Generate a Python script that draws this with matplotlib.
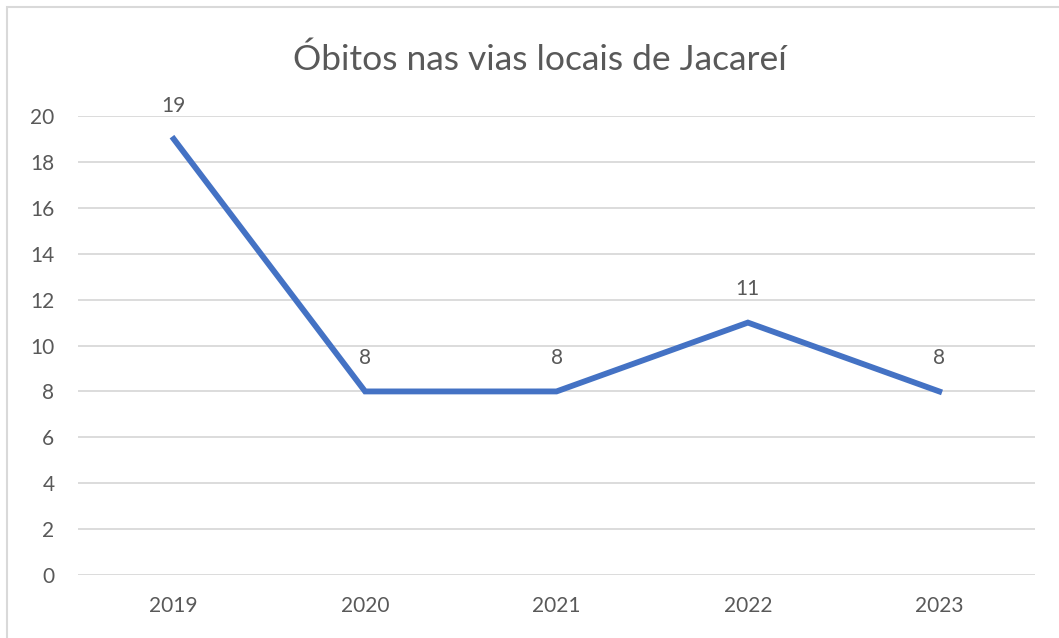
import matplotlib.pyplot as plt
from matplotlib.patches import Rectangle

plt.rcParams['font.family'] = ['Lato', 'DejaVu Sans']

anos = ["2019", "2020", "2021", "2022", "2023"]
obitos = [19, 8, 8, 11, 8]
titulo = "Óbitos nas vias locais de Jacareí"

TXT = "#595959"
GRID = "#d9d9d9"
AZUL = "#4472C4"

fig = plt.figure(figsize=(10.59, 6.38), dpi=100)
ax = fig.add_axes([0.0737, 0.0987, 0.9036, 0.7194])

x = list(range(len(anos)))
ax.plot(x, obitos, color=AZUL, linewidth=4.2, solid_joinstyle='miter', zorder=3)

for xi, v in zip(x, obitos):
    ax.annotate(str(v), (xi, v), xytext=(0, 24), textcoords='offset points',
                ha='center', va='center', fontsize=15, color=TXT)

ax.set_xlim(-0.5, len(anos) - 0.5)
ax.set_ylim(0, 20)
ax.set_yticks(range(0, 21, 2))
ax.set_xticks(x)
ax.set_xticklabels(anos)
ax.grid(axis='y', color=GRID, linewidth=1.3)
ax.set_axisbelow(True)
for s in ax.spines.values():
    s.set_visible(False)
ax.tick_params(length=0, colors=TXT, labelsize=15)
ax.tick_params(axis='x', pad=15)
ax.tick_params(axis='y', pad=17)

fig.text(0.51, 0.890, titulo, ha='center', va='baseline', fontsize=25.5, color=TXT)

# moldura do gráfico (lados direito e inferior ficam fora da imagem)
fig.patches.append(Rectangle((7 / 1059, -0.1), 1.1, 1.1 - 7 / 638,
                             transform=fig.transFigure, fill=False,
                             edgecolor=GRID, linewidth=1.5))

fig.savefig("out.png", dpi=100)
